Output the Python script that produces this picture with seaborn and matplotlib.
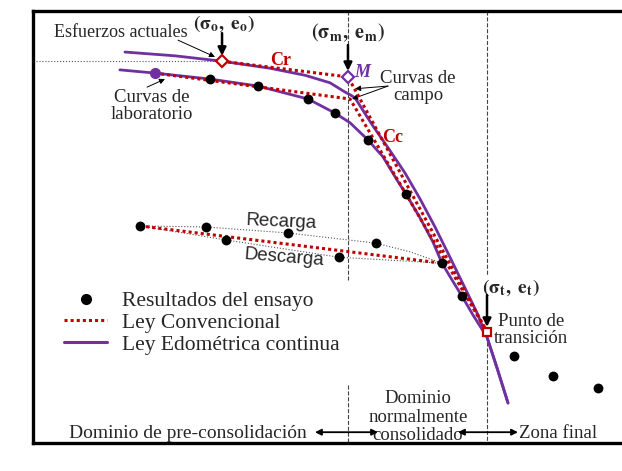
import matplotlib
matplotlib.use("Agg")
import matplotlib.pyplot as plt
import seaborn as sns
from matplotlib.lines import Line2D

# ---------------------------------------------------------------- data
# effective stress (kPa, log scale) and void ratio e

# field curve (continuous oedometric law)
field_sigma = [2.94, 5.29, 9.18, 16.1, 24.3, 32.6, 38.8, 41.2, 43.7, 48.5, 53.9,
               65.1, 78.5, 93.6, 111.6, 133.0, 158.6, 182.6, 205.3, 230.9, 262.7]
field_e = [1.024, 1.017, 1.007, 0.994, 0.981, 0.967, 0.950, 0.945, 0.939, 0.913, 0.887,
           0.844, 0.800, 0.752, 0.700, 0.644, 0.587, 0.541, 0.496, 0.439, 0.374]

# laboratory curve (continuous oedometric law)
lab_sigma = [2.77, 4.18, 7.97, 14.0, 25.2, 34.5, 41.2, 50.9, 60.6, 71.5, 79.4,
             93.6, 109.0, 121.1, 136.2, 153.1, 174.2, 205.3, 230.9, 262.7]
lab_e = [0.991, 0.985, 0.974, 0.961, 0.937, 0.911, 0.893, 0.861, 0.830, 0.787, 0.761,
         0.717, 0.672, 0.633, 0.602, 0.572, 0.537, 0.496, 0.439, 0.374]

# conventional (bilinear) law
conv_field_sigma = [9.18, 40.2, 205.3]
conv_field_e = [1.007, 0.978, 0.506]
conv_lab_sigma = [4.18, 41.2, 205.3]
conv_lab_e = [0.985, 0.937, 0.506]
conv_loop_sigma = [3.51, 121.1]
conv_loop_e = [0.702, 0.633]

# test results
test_sigma = [7.97, 14.0, 25.2, 34.5, 50.9, 79.4, 121.1, 153.1, 281.8, 445.3, 754.6]
test_e = [0.974, 0.961, 0.937, 0.911, 0.861, 0.761, 0.633, 0.572, 0.461, 0.424, 0.402]
loop_sigma = [3.51, 7.61, 19.9, 55.9, 9.62, 36.2]
loop_e = [0.702, 0.700, 0.689, 0.670, 0.676, 0.644]

# unloading / reloading paths
reload_sigma = [3.51, 7.61, 19.9, 55.9, 83.2, 121.1]
reload_e = [0.702, 0.700, 0.689, 0.670, 0.654, 0.633]
unload_sigma = [121.1, 36.2, 9.62, 3.51]
unload_e = [0.633, 0.644, 0.676, 0.702]

# characteristic points
sigma_o, e_o = 9.18, 1.007
sigma_m, e_m = 40.2, 0.978
sigma_t, e_t = 205.3, 0.506
lab_start_sigma, lab_start_e = 4.18, 0.985

# ---------------------------------------------------------------- style
sns.set_style("white")
plt.rcParams["font.family"] = ["Liberation Serif", "DejaVu Serif"]
plt.rcParams["mathtext.fontset"] = "stix"

PURPLE = "#7030A0"
RED = "#C00000"
DOT = (0, (1, 1))
SANS = ["Liberation Sans", "DejaVu Sans"]

fig = plt.figure(figsize=(6.22, 4.71), dpi=100)
ax = fig.add_axes([33 / 622, 1 - 443 / 471, 589 / 622, 432 / 471])
ax.set_xscale("log")
ax.set_xlim(1, 1000)
ax.set_ylim(0.30, 1.10)
ax.set_xticks([])
ax.set_yticks([])
ax.minorticks_off()
for side in ("left", "top", "bottom"):
    ax.spines[side].set_linewidth(2.4)
    ax.spines[side].set_color("black")
ax.spines["right"].set_visible(False)

# domain boundaries
ax.plot([sigma_m, sigma_m], [1.10, 0.602], ls="--", lw=0.8, color="#444444", zorder=1)
ax.plot([sigma_m, sigma_m], [0.407, 0.30], ls="--", lw=0.8, color="#444444", zorder=1)
ax.plot([sigma_t, sigma_t], [1.10, 0.611], ls="--", lw=0.8, color="#444444", zorder=1)
ax.plot([sigma_t, sigma_t], [0.487, 0.30], ls="--", lw=0.8, color="#444444", zorder=1)
ax.plot([1.036, sigma_o], [e_o, e_o], ls=":", lw=0.8, color="#555555", zorder=1)

# unloading / reloading loop
sns.lineplot(x=reload_sigma, y=reload_e, sort=False, estimator=None, ax=ax,
             color="#555555", lw=0.8, linestyle=":", zorder=2)
sns.lineplot(x=unload_sigma, y=unload_e, sort=False, estimator=None, ax=ax,
             color="#555555", lw=0.8, linestyle=":", zorder=2)

# continuous law
sns.lineplot(x=field_sigma, y=field_e, sort=False, estimator=None, ax=ax,
             color=PURPLE, lw=2.0, zorder=3)
sns.lineplot(x=lab_sigma, y=lab_e, sort=False, estimator=None, ax=ax,
             color=PURPLE, lw=2.0, zorder=3)

# conventional law
for xs, ys in ((conv_field_sigma, conv_field_e), (conv_lab_sigma, conv_lab_e),
               (conv_loop_sigma, conv_loop_e)):
    sns.lineplot(x=xs, y=ys, sort=False, estimator=None, ax=ax,
                 color=RED, lw=2.2, linestyle=DOT, zorder=4)

# test results
sns.scatterplot(x=test_sigma + loop_sigma, y=test_e + loop_e, ax=ax, color="black",
                s=50, linewidth=0, zorder=5)

# characteristic points
ax.plot(sigma_o, e_o, marker="D", ms=6, mfc="white", mec=RED, mew=1.6, zorder=6)
ax.plot(sigma_m, e_m, marker="D", ms=6, mfc="white", mec=PURPLE, mew=1.6, zorder=6)
ax.plot(sigma_t, e_t, marker="s", ms=6, mfc="white", mec=RED, mew=1.6, zorder=6)
ax.plot(lab_start_sigma, lab_start_e, marker="o", ms=7, color=PURPLE, zorder=6)

# labels of characteristic points
bold_arrow = dict(arrowstyle="-|>", color="black", lw=1.8, mutation_scale=12,
                  shrinkA=0, shrinkB=0)
thin_arrow = dict(arrowstyle="-|>", color="black", lw=0.7, mutation_scale=8,
                  shrinkA=0, shrinkB=0)

ax.text(9.40, 1.076, r"$\mathbf{(\sigma_o,\ e_o)}$", fontsize=14, ha="center", va="center")
ax.annotate("", xy=(sigma_o, 1.017), xytext=(sigma_o, 1.059), arrowprops=bold_arrow)
ax.text(40.2, 1.059, r"$\mathbf{(\sigma_m,\ e_m)}$", fontsize=14.5, ha="center", va="center")
ax.annotate("", xy=(sigma_m, 0.989), xytext=(sigma_m, 1.037), arrowprops=bold_arrow)
ax.text(272.1, 0.587, r"$\mathbf{(\sigma_t,\ e_t)}$", fontsize=14, ha="center", va="center",
        bbox=dict(facecolor="white", edgecolor="none", pad=0.5))
ax.annotate("", xy=(sigma_t, 0.515), xytext=(sigma_t, 0.574), arrowprops=bold_arrow)

ax.text(47.4, 0.987, "M", color=PURPLE, fontsize=13, fontweight="bold",
        fontstyle="italic", ha="center", va="center")
ax.text(18.33, 1.009, "Cr", color=RED, fontsize=13, fontweight="bold",
        ha="center", va="center")
ax.text(68.2, 0.865, "Cc", color=RED, fontsize=13, fontweight="bold",
        ha="center", va="center")

ax.text(2.807, 1.061, "Esfuerzos actuales", fontsize=13, ha="center", va="center")
ax.annotate("", xy=(8.45, 1.015), xytext=(5.48, 1.046), arrowprops=thin_arrow)

ax.text(4.04, 0.924, "Curvas de\nlaboratorio", fontsize=13.5, ha="center", va="center",
        linespacing=1.0)
ax.annotate("", xy=(4.70, 0.974), xytext=(3.81, 0.959), arrowprops=thin_arrow)

ax.text(91.4, 0.959, "Curvas de\ncampo", fontsize=13.5, ha="center", va="center",
        linespacing=1.0)
ax.annotate("", xy=(43.7, 0.956), xytext=(64.3, 0.961), arrowprops=thin_arrow)
ax.annotate("", xy=(42.2, 0.937), xytext=(64.3, 0.961), arrowprops=thin_arrow)

ax.text(344, 0.509, "Punto de\ntransición", fontsize=13.5, ha="center", va="center",
        linespacing=1.0)

ax.text(18.3, 0.709, "Recarga", family=SANS, fontsize=13.5, ha="center", va="center",
        rotation=-2.5)
ax.text(19.0, 0.644, "Descarga", family=SANS, fontsize=13.5, ha="center", va="center",
        rotation=-4.5)

# domains
ax.text(6.16, 0.318, "Dominio de pre-consolidación", fontsize=14, ha="center", va="center")
ax.text(91.4, 0.348, "Dominio\nnormalmente\nconsolidado", fontsize=13.5, ha="center",
        va="center", linespacing=1.12)
ax.text(472, 0.318, "Zona final", fontsize=13.5, ha="center", va="center")
dbl_arrow = dict(arrowstyle="<|-|>", color="black", lw=1.3, mutation_scale=9,
                 shrinkA=0, shrinkB=0)
ax.annotate("", xy=(27.3, 0.320), xytext=(57.2, 0.320), arrowprops=dbl_arrow)
ax.annotate("", xy=(146.1, 0.320), xytext=(295.3, 0.320), arrowprops=dbl_arrow)

# axis titles
ax.set_xlabel(r"Esfuerzo efectivo, $\boldsymbol{\sigma}$(kPa) (escala logarítmica )",
              fontsize=14, labelpad=3)
ax.set_ylabel("Relación de vacíos, (e)", family=SANS, fontsize=17, labelpad=1)

# legend
handles = [
    Line2D([], [], marker="o", ls="none", color="black", markersize=7),
    Line2D([], [], color=RED, lw=2.2, ls=DOT),
    Line2D([], [], color=PURPLE, lw=2.2),
]
labels = ["Resultados del ensayo", "Ley Convencional", "Ley Edométrica continua"]
ax.legend(handles, labels, loc="upper left", bbox_to_anchor=(64 / 622, 1 - 291 / 471),
          bbox_transform=fig.transFigure, frameon=False, fontsize=15.5,
          borderpad=0, borderaxespad=0, labelspacing=0.08, handlelength=2.0,
          handletextpad=0.7)

fig.savefig("out.png", dpi=100)
